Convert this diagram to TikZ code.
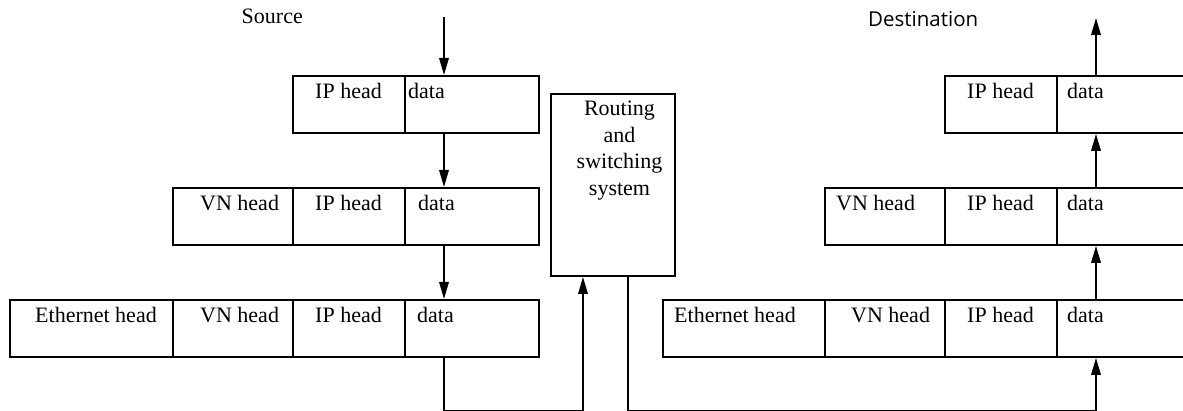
\documentclass[tikz,border=0pt]{standalone}
\usepackage{fontspec}
\setmainfont{Liberation Serif}
\newfontfamily\labelsans{Open Sans}
\usetikzlibrary{arrows.meta,calc}

\begin{document}
\begin{tikzpicture}[x=1pt,y=-1pt,
  cell/.style={draw, line width=1.9pt, minimum height=57pt, inner sep=0pt, anchor=north west},
  txt/.style={anchor=base west, inner sep=0pt, font=\fontsize{22}{26}\selectfont},
  flow/.style={line width=1.9pt, -{Triangle[length=17pt,width=9.5pt]}},
]
\useasboundingbox (0,0) rectangle (1183,411);
\clip (0,0) rectangle (1183,411);

% ---- source side packets ----
\node[cell, minimum width=112pt] (s1ip) at (292,75) {};
\node[cell, minimum width=134pt] (s1d)  at (404,75) {};

\node[cell, minimum width=120pt] (s2vn) at (172,187) {};
\node[cell, minimum width=112pt] (s2ip) at (292,187) {};
\node[cell, minimum width=134pt] (s2d)  at (404,187) {};

\node[cell, minimum width=163pt] (s3eth) at (9,299) {};
\node[cell, minimum width=120pt] (s3vn)  at (172,299) {};
\node[cell, minimum width=112pt] (s3ip)  at (292,299) {};
\node[cell, minimum width=134pt] (s3d)   at (404,299) {};

% ---- routing and switching system ----
\node[cell, minimum width=124pt, minimum height=182pt] (rs) at (550,93) {};
\node[anchor=north, inner sep=0pt, align=center,
      font=\fontsize{22}{26.5}\selectfont] (rstxt) at (619.5,101)
      {Routing\\and\\switching\\system};

% ---- destination side packets ----
\node[cell, minimum width=112pt] (d1ip) at (944,75) {};
\node[cell, minimum width=134pt] (d1d)  at (1056,75) {};

\node[cell, minimum width=120pt] (d2vn) at (824,187) {};
\node[cell, minimum width=112pt] (d2ip) at (944,187) {};
\node[cell, minimum width=134pt] (d2d)  at (1056,187) {};

\node[cell, minimum width=162pt] (d3eth) at (662,299) {};
\node[cell, minimum width=120pt] (d3vn)  at (824,299) {};
\node[cell, minimum width=112pt] (d3ip)  at (944,299) {};
\node[cell, minimum width=134pt] (d3d)   at (1056,299) {};

% ---- field labels ----
\node[txt] (t-s1ip) at ($(s1ip.north west)+(23,23.5)$) {IP head};
\node[txt] (t-s1d)  at ($(s1d.north west)+(4,23.5)$) {data};

\node[txt] (t-s2vn) at ($(s2vn.north west)+(28,23.5)$) {VN head};
\node[txt] (t-s2ip) at ($(s2ip.north west)+(23,23.5)$) {IP head};
\node[txt] (t-s2d)  at ($(s2d.north west)+(14,23.5)$) {data};

\node[txt] (t-s3eth) at ($(s3eth.north west)+(26,23.5)$) {Ethernet head};
\node[txt] (t-s3vn)  at ($(s3vn.north west)+(28,23.5)$) {VN head};
\node[txt] (t-s3ip)  at ($(s3ip.north west)+(23,23.5)$) {IP head};
\node[txt] (t-s3d)   at ($(s3d.north west)+(13,23.5)$) {data};

\node[txt] (t-d1ip) at ($(d1ip.north west)+(23,23.5)$) {IP head};
\node[txt] (t-d1d)  at ($(d1d.north west)+(11,23.5)$) {data};

\node[txt] (t-d2vn) at ($(d2vn.north west)+(12,23.5)$) {VN head};
\node[txt] (t-d2ip) at ($(d2ip.north west)+(23,23.5)$) {IP head};
\node[txt] (t-d2d)  at ($(d2d.north west)+(11,23.5)$) {data};

\node[txt] (t-d3eth) at ($(d3eth.north west)+(12,23.5)$) {Ethernet head};
\node[txt] (t-d3vn)  at ($(d3vn.north west)+(27,23.5)$) {VN head};
\node[txt] (t-d3ip)  at ($(d3ip.north west)+(23,23.5)$) {IP head};
\node[txt] (t-d3d)   at ($(d3d.north west)+(11,23.5)$) {data};

% ---- titles ----
\node[txt] (src) at (241.5,24) {Source};
\node[anchor=base west, inner sep=0pt, font=\labelsans\fontsize{20.5}{24}\selectfont]
  (dst) at (868,26.5) {Destination};

% ---- flow of the packet ----
\coordinate (srcin)  at ($(s1d.north west)+(40,-58)$);
\coordinate (dstout) at ($(d1d.north west)+(40,-57)$);

\draw[flow] (srcin) -- ($(s1d.north west)+(40,0)$);
\draw[flow] ($(s1d.south west)+(40,0)$) -- ($(s2d.north west)+(40,0)$);
\draw[flow] ($(s2d.south west)+(40,0)$) -- ($(s3d.north west)+(40,0)$);
\draw[flow] ($(s3d.south west)+(40,0)$) |- ($(rs.south west)+(33,134)$)
            -- ($(rs.south west)+(33,0)$);
\draw[flow] ($(rs.south west)+(78,0)$) |- ($(d3d.south west)+(40,53)$)
            -- ($(d3d.south west)+(40,0)$);
\draw[flow] ($(d3d.north west)+(40,0)$) -- ($(d2d.south west)+(40,0)$);
\draw[flow] ($(d2d.north west)+(40,0)$) -- ($(d1d.south west)+(40,0)$);
\draw[flow] ($(d1d.north west)+(40,0)$) -- (dstout);
\end{tikzpicture}
\end{document}
